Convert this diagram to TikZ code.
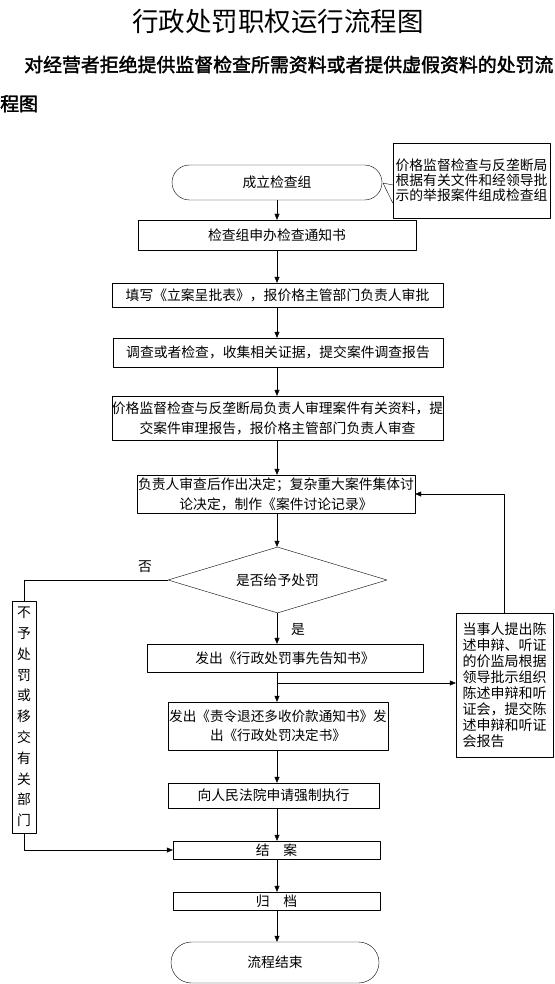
\documentclass[tikz,border=0pt]{standalone}
\usepackage{fontspec}
\setmainfont{Noto Sans CJK SC}
\newfontfamily\boldcjk{Noto Sans CJK SC}[FakeBold=2]
\usetikzlibrary{arrows.meta,positioning,shapes.misc,shapes.geometric}

\begin{document}
\begin{tikzpicture}[x=1pt,y=-1pt,line join=round,
  box/.style={draw,inner sep=0pt,align=center,font=\fontsize{13.8}{20}\selectfont},
  term/.style={box,rounded rectangle},
  arr/.style={-{Triangle[length=6pt,width=5pt]}},
  lbl/.style={inner sep=0pt,font=\fontsize{13.8}{14}\selectfont}]
  \useasboundingbox (0,0) rectangle (554,984);
  % headings
  \node[inner sep=0pt,font=\fontsize{26.5}{27}\selectfont] (title) at (278,21.5) {行政处罚职权运行流程图};
  \node[inner sep=0pt,anchor=west,align=left,font=\boldcjk\fontsize{18.9}{39}\selectfont] (subtitle) at (0,84) {\hspace*{24pt}对经营者拒绝提供监督检查所需资料或者提供虚假资料的处罚流\\程图};
  % main column
  \coordinate (axis) at (277,0);
  \node[term,minimum width=210pt,minimum height=35pt] (start) at (277,182.5) {成立检查组};
  \node[box,align=left,inner sep=2pt,minimum width=157pt,minimum height=75pt,font=\fontsize{13.8}{15}\selectfont] (basis) at (471.5,180.5) {价格监督检查与反垄断局\\根据有关文件和经领导批\\示的举报案件组成检查组};
  \node[box,minimum width=278pt,minimum height=30pt] (apply) at (277,235) {检查组申办检查通知书};
  \node[box,minimum width=331pt,minimum height=24pt] (file) at (277.5,295) {填写《立案呈批表》，报价格主管部门负责人审批};
  \node[box,minimum width=330pt,minimum height=29pt] (probe) at (278,352.5) {调查或者检查，收集相关证据，提交案件调查报告};
  \node[box,minimum width=331pt,minimum height=44pt] (review) at (277.5,418) {价格监督检查与反垄断局负责人审理案件有关资料，提\\交案件审理报告，报价格主管部门负责人审查};
  \node[box,minimum width=278pt,minimum height=38pt] (decide) at (276,494) {负责人审查后作出决定；复杂重大案件集体讨\\论决定，制作《案件讨论记录》};
  \node[box,diamond,aspect=3.3,minimum width=219pt,minimum height=66pt] (ask) at (277.5,580) {是否给予处罚};
  \node[box,minimum width=276pt,minimum height=28pt] (notice) at (285,658) {发出《行政处罚事先告知书》};
  \node[box,minimum width=220pt,minimum height=48pt,font=\fontsize{13.6}{19}\selectfont] (order) at (278,726) {发出《责令退还多收价款通知书》发\\出《行政处罚决定书》};
  \node[box,minimum width=211pt,minimum height=25pt] (court) at (273.5,795.5) {向人民法院申请强制执行};
  \node[box,minimum width=207pt,minimum height=18pt] (close) at (276.5,850) {结\hspace{1em}案};
  \node[box,minimum width=207pt,minimum height=18pt] (archive) at (276.5,901) {归\hspace{1em}档};
  \node[term,minimum width=208pt,minimum height=41pt] (finish) at (275,962.5) {流程结束};
  % side boxes
  \node[box,align=left,inner xsep=4pt,minimum width=97pt,minimum height=144pt,font=\fontsize{14}{16}\selectfont] (plead) at (504.5,685) {当事人提出陈\\述申辩、听证\\的价监局根据\\领导批示组织\\陈述申辩和听\\证会，提交陈\\述申辩和听证\\会报告};
  \node[box,minimum width=24pt,minimum height=232pt,font=\fontsize{13.8}{20.8}\selectfont] (reject) at (24,717) {不\\予\\处\\罚\\或\\移\\交\\有\\关\\部\\门};
  \node[lbl] (lblno) at (145,567) {否};
  \node[lbl] (lblyes) at (298,630) {是};
  % connectors
  \draw (basis.west |- 0,185) -- (383,183) coordinate (tip) -- (basis.west |- 0,203);
  \foreach \a/\b in {start/apply,apply/file,file/probe,probe/review,review/decide,decide/ask,ask/notice,notice/order,order/court,court/close,close/archive,archive/finish}
    \draw[arr] (axis |- \a.south) -- (axis |- \b.north);
  \coordinate (fork) at (277,683);
  \draw[arr] (fork) -- (fork -| plead.west);
  \draw[arr] (plead.north) |- (decide.east);
  \draw (ask.west) -| (reject.north);
  \draw[arr] (reject.south) |- (close.west);
\end{tikzpicture}
\end{document}
